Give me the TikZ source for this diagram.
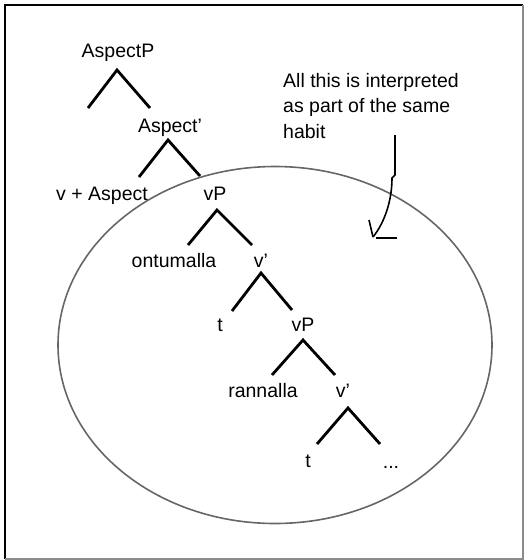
\documentclass[tikz,border=0pt]{standalone}
\usepackage{fontspec}
\setmainfont{Liberation Sans}
\newcommand\myapos{{\char"27\relax}}
\begin{document}
\begin{tikzpicture}[x=1pt,y=-1pt,
  lbl/.style={anchor=base,inner sep=0pt,font=\fontsize{19.5}{25.5}\selectfont},
  br/.style={line width=2.8pt},
  frameline/.style={line width=2pt,black},
  frameline2/.style={line width=1.5pt,black!45},
  ell/.style={line width=1.6pt,black!60},
  hand/.style={line width=1.6pt,black}]
\useasboundingbox (0,0) rectangle (526,560);
% frame
\draw[frameline] (5,559) -- (5,5) -- (523,5);
\draw[frameline2] (523,5) -- (523,559) -- (5,559);
% ellipse
\draw[ell] (275,345) ellipse [x radius=217, y radius=178.5];
% labels
\node[lbl] (AP) at (118,57) {AspectP};
\node[lbl] (Abar) at (170,132) {Aspect\myapos};
\node[lbl] (vAsp) at (102,200) {v + Aspect};
\node[lbl] (vP1) at (215,200) {vP};
\node[lbl] (ont) at (174,267) {ontumalla};
\node[lbl] (vb1) at (261,267) {v\myapos};
\node[lbl] (t1) at (220,331) {t};
\node[lbl] (vP2) at (303,331) {vP};
\node[lbl] (ran) at (263,397) {rannalla};
\node[lbl] (vb2) at (343,397) {v\myapos};
\node[lbl] (t2) at (308,467) {t};
\node[lbl] (dots) at (391,468) {...};
\node[lbl,anchor=north west,align=left] (note) at (283,73)
  {All this is interpreted\\as part of the same\\habit};
% branch points
\coordinate (aAP) at (117,70);  \coordinate (lAP) at (88,108);  \coordinate (rAP) at (150,108);
\coordinate (aAb) at (168,140); \coordinate (lAb) at (139,177); \coordinate (rAb) at (200,176);
\coordinate (aV1) at (217,210); \coordinate (lV1) at (188,245); \coordinate (rV1) at (252,245);
\coordinate (aB1) at (261,273); \coordinate (lB1) at (232,311); \coordinate (rB1) at (292,310);
\coordinate (aV2) at (303,340); \coordinate (lV2) at (272,375); \coordinate (rV2) at (335,375);
\coordinate (aB2) at (348,408); \coordinate (lB2) at (317,444); \coordinate (rB2) at (380,444);
\foreach \n in {AP,Ab,V1,B1,V2,B2}{
  \draw[br] (l\n) -- (a\n) -- (r\n);
}
% hand-drawn arrow
\coordinate (arS) at (395,135);
\coordinate (arK) at (395,175);
\coordinate (arJ) at (392,178);
\coordinate (arE) at (373,237);
\coordinate (arB) at (369,220);
\coordinate (barL) at (376,238);
\coordinate (barR) at (397,238);
\draw[hand] (arS) -- (arK) -- (arJ) .. controls (392,200) and (385,222) .. (arE);
\draw[hand] (arB) -- (arE);
\draw[hand] (barL) -- (barR);
\end{tikzpicture}
\end{document}
